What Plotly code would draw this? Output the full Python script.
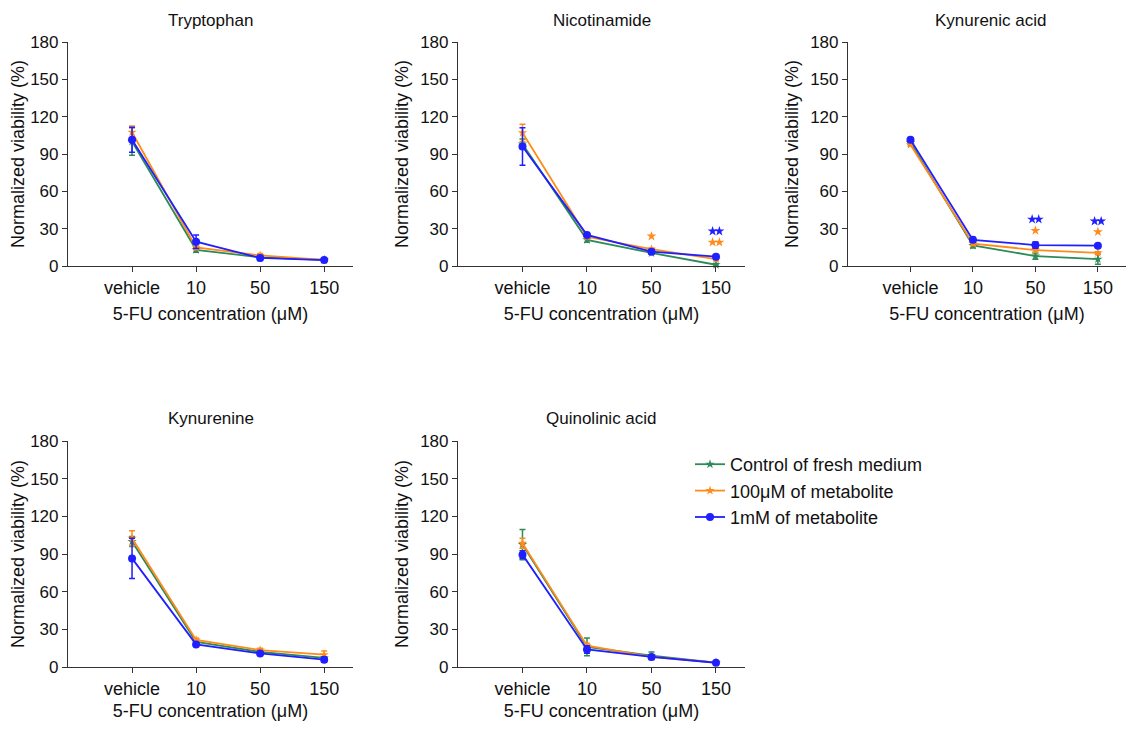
import plotly.graph_objects as go

categories = ["vehicle", "10", "50", "150"]
panel_titles = ["Tryptophan", "Nicotinamide", "Kynurenic acid", "Kynurenine", "Quinolinic acid"]
series_names = ["Control of fresh medium", "100\u03bcM of metabolite", "1mM of metabolite"]
series_colors = ["#2E8B57", "#FF8C1A", "#1F1FFF"]
series_symbols = ["star", "star", "circle"]

# means per panel: [control, 100uM, 1mM]
tryptophan_mean = [[100, 13, 7, 5], [107.5, 15, 8.5, 5], [101.5, 19.5, 6.5, 4.8]]
tryptophan_err = [[11, 2, 1, 0.5], [5, 2, 1.5, 0.5], [10, 5.5, 2, 0.5]]
nicotinamide_mean = [[98, 21, 10.5, 1], [107, 23.5, 13.5, 5.5], [96, 25, 11.5, 7.5]]
nicotinamide_err = [[4, 2, 1, 1], [7, 1.5, 1, 1], [15, 1.5, 1.5, 1]]
kynurenic_mean = [[99, 16.5, 8, 5.5], [97.5, 18, 12.8, 10.5], [101.5, 21, 16.8, 16.3]]
kynurenic_err = [[1, 2, 2.5, 4], [1, 1.5, 1.5, 1], [1, 2, 2.5, 1]]
kynurenine_mean = [[100, 20, 12, 7.2], [102.5, 21.5, 13.5, 9.8], [86.5, 18, 10.8, 5.8]]
kynurenine_err = [[4, 1.5, 1, 1], [6, 1.5, 1.5, 3], [16, 1, 1, 2]]
quinolinic_mean = [[97.5, 16, 9, 3.5], [98.5, 17, 8, 3.5], [89.5, 14, 8, 3.4]]
quinolinic_err = [[12, 7, 3, 0.5], [4, 2, 1, 0.5], [3, 3, 1, 0.5]]

panel_means = [tryptophan_mean, nicotinamide_mean, kynurenic_mean, kynurenine_mean, quinolinic_mean]
panel_errs = [tryptophan_err, nicotinamide_err, kynurenic_err, kynurenine_err, quinolinic_err]

# significance marks: panel index, category, y value, number of stars, series index
sig_panel = [1, 1, 1, 2, 2, 2, 2]
sig_cat = ["50", "150", "150", "50", "50", "150", "150"]
sig_y = [24, 28, 19, 37.5, 28.5, 36, 27.5]
sig_count = [1, 2, 2, 2, 1, 2, 1]
sig_series = [1, 2, 1, 2, 1, 2, 1]

y_ticks = [0, 30, 60, 90, 120, 150, 180]

OFF = 8  # page body margin
W, H = 1134 - 2 * OFF, 729 - 2 * OFF
col_px = [(68, 353), (458, 745), (848, 1133)]
row_px = [(42, 266), (441, 667)]
positions = [(0, 0), (0, 1), (0, 2), (1, 0), (1, 1)]
cat_pos = list(range(len(categories)))
STAR_GAP = 0.105  # in category units

def fx(px):
    return (px - OFF) / W

def fy(py):
    return 1 - (py - OFF) / H

FONT = "Arial, Liberation Sans, Helvetica, sans-serif"
fig = go.Figure()
layout = dict(
    width=W, height=H, margin=dict(l=0, r=0, t=0, b=0, autoexpand=False),
    plot_bgcolor="white", paper_bgcolor="white",
    font=dict(family=FONT, color="#111"),
    showlegend=True,
    legend=dict(x=fx(690), y=fy(446), xanchor="left", yanchor="top",
                font=dict(size=18, family=FONT, color="#111"),
                itemwidth=30, tracegroupgap=0, bgcolor="rgba(0,0,0,0)"),
)
annotations = []
for p, (r, c) in enumerate(positions):
    idx = p + 1
    xa = "xaxis" if idx == 1 else f"xaxis{idx}"
    ya = "yaxis" if idx == 1 else f"yaxis{idx}"
    xref = "x" if idx == 1 else f"x{idx}"
    yref = "y" if idx == 1 else f"y{idx}"
    x0, x1 = col_px[c]
    y0, y1 = row_px[r]
    layout[xa] = dict(
        domain=[fx(x0), min(fx(x1), 1)], anchor=yref, type="linear",
        tickvals=cat_pos, ticktext=categories, range=[-1, 3.45],
        showline=True, linecolor="#333", linewidth=1.2, ticks="outside",
        ticklen=5, tickcolor="#333", showgrid=False, zeroline=False, automargin=False,
        tickfont=dict(size=18, family=FONT, color="#111"),
        title=dict(text="5-FU concentration (\u03bcM)", font=dict(size=18, family=FONT, color="#111"), standoff=10),
    )
    layout[ya] = dict(
        domain=[fy(y1), fy(y0)], anchor=xref, range=[0, 180],
        tickvals=y_ticks, showline=True, linecolor="#333", linewidth=1.2,
        ticks="outside", ticklen=5, tickcolor="#333", showgrid=False, zeroline=False, automargin=False,
        tickfont=dict(size=17, family=FONT, color="#111"),
        title=dict(text="Normalized viability (%)", font=dict(size=18, family=FONT, color="#111"), standoff=6),
    )
    annotations.append(dict(
        text=panel_titles[p], x=(fx(x0) + fx(x1)) / 2, y=fy(y0 - 22),
        xref="paper", yref="paper", showarrow=False, xanchor="center", yanchor="middle",
        font=dict(size=17, family=FONT, color="#111")))
    for s in range(3):
        fig.add_trace(go.Scatter(
            x=cat_pos, y=panel_means[p][s], xaxis=xref, yaxis=yref,
            mode="lines+markers", name=series_names[s], legendgroup=series_names[s],
            showlegend=(p == 0),
            line=dict(color=series_colors[s], width=1.8),
            marker=dict(color=series_colors[s], symbol=series_symbols[s], size=8 if s == 2 else 7),
            error_y=dict(type="data", array=panel_errs[p][s], color=series_colors[s], thickness=1.5, width=3),
            cliponaxis=False, hoverinfo="skip",
        ))

# significance stars drawn as star markers
for i in range(len(sig_panel)):
    idx = sig_panel[i] + 1
    xref = "x" if idx == 1 else f"x{idx}"
    yref = "y" if idx == 1 else f"y{idx}"
    n = sig_count[i]
    base = categories.index(sig_cat[i])
    xs = [base + STAR_GAP * (k - (n - 1) / 2) for k in range(n)]
    fig.add_trace(go.Scatter(
        x=xs, y=[sig_y[i]] * n, xaxis=xref, yaxis=yref, mode="markers",
        marker=dict(symbol="star", size=7.5, color=series_colors[sig_series[i]], line=dict(width=0)),
        showlegend=False, cliponaxis=False, hoverinfo="skip",
    ))

layout["annotations"] = annotations
fig.update_layout(**layout)
fig.write_html("out.html")
